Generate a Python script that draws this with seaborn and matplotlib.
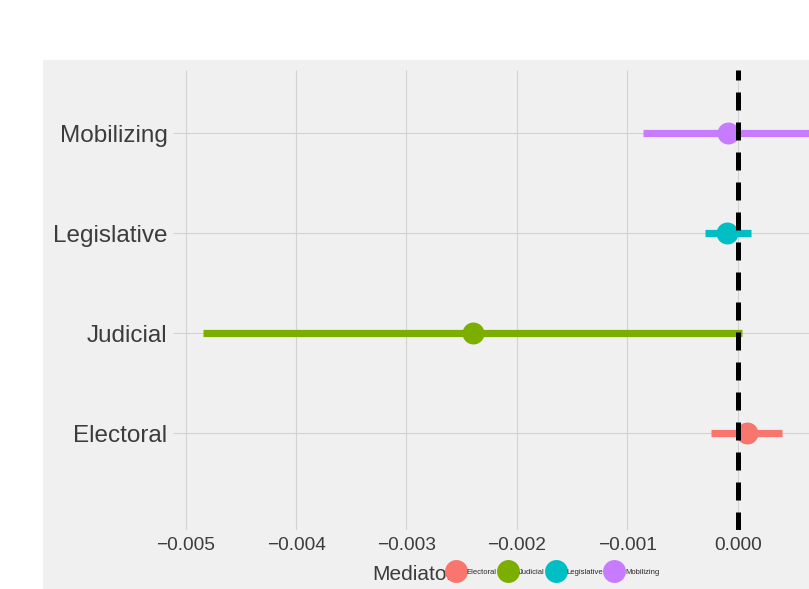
import matplotlib
matplotlib.use("Agg")
import matplotlib.pyplot as plt
from matplotlib import font_manager
from matplotlib.lines import Line2D
from matplotlib.patches import Rectangle
import seaborn as sns
import pandas as pd

# Mediation effects: point estimate with lower / upper interval bounds
mediators = ["Electoral", "Judicial", "Legislative", "Mobilizing"]
estimates = [0.00008, -0.0024, -0.0001, -0.00009]
lower = [-0.00024, -0.00484, -0.00030, -0.00086]
upper = [0.00040, 0.00004, 0.00012, 0.00072]
x_ticks = [-0.005, -0.004, -0.003, -0.002, -0.001, 0.000]
x_tick_labels = ["\u22120.005", "\u22120.004", "\u22120.003", "\u22120.002", "\u22120.001", "0.000"]
legend_title = "Mediator"

palette = {"Electoral": "#F8766D", "Judicial": "#7CAE00",
           "Legislative": "#00BFC4", "Mobilizing": "#C77CFF"}
bg = "#F0F0F0"
text_col = "#3C3C3C"
grid_col = "#D2D2D2"

sns.set_style("white", {"axes.facecolor": bg})
installed = {f.name for f in font_manager.fontManager.ttflist}
family = "Liberation Sans"
for cand in ["Liberation Sans Narrow", "DejaVu Sans Condensed", "Liberation Sans"]:
    if cand in installed:
        family = cand
        break
plt.rcParams["font.family"] = [family, "DejaVu Sans"]
plt.rcParams["lines.solid_capstyle"] = "butt"

# long table: each mediator contributes its lower bound, estimate and upper bound;
# median gives the estimate and the full percentile interval gives the bounds
rows = []
for m, lo, est, hi in zip(mediators, lower, estimates, upper):
    for v in (lo, est, hi):
        rows.append({"mediator": m, "effect": v})
df = pd.DataFrame(rows)

W, H = 809, 589
fig = plt.figure(figsize=(W / 100, H / 100), dpi=100, facecolor="white")
fig.patches.append(Rectangle((43 / W, 0), 1 - 43 / W, (H - 60) / H,
                             transform=fig.transFigure, facecolor=bg,
                             edgecolor="none", zorder=-5))

ax_left, ax_right, ax_top, ax_bottom = 173, 809, 70, 530
ax = fig.add_axes([ax_left / W, (H - ax_bottom) / H,
                   (ax_right - ax_left) / W, (ax_bottom - ax_top) / H])
ax.set_zorder(1)
ax.set_facecolor(bg)

order = ["Mobilizing", "Legislative", "Judicial", "Electoral"]
sns.pointplot(data=df, x="effect", y="mediator", hue="mediator",
              order=order, hue_order=mediators, palette=palette,
              estimator="median", errorbar=("pi", 100),
              markers="o", linestyles="none", markersize=15.8,
              markeredgewidth=0, err_kws={"linewidth": 5.2},
              dodge=False, legend=False, ax=ax)

ax.axvline(0, color="black", lw=3.6, dashes=(3.6, 2.4), zorder=10)

# pixel-calibrated data limits
px_per_unit = 110.4 / 0.001
zero_px = 737.7
ax.set_xlim((ax_left - zero_px) / px_per_unit, (ax_right - zero_px) / px_per_unit)
ax.set_ylim(3.97, -0.63)

ax.set_xticks(x_ticks)
ax.set_xticklabels(x_tick_labels)
ax.grid(True, color=grid_col, linewidth=0.8)
ax.set_axisbelow(True)
for s in ax.spines.values():
    s.set_visible(False)
ax.tick_params(axis="both", length=0, colors=text_col)
ax.tick_params(axis="x", labelsize=13.8, pad=5)
ax.tick_params(axis="y", labelsize=17.5, pad=4)
ax.set_xlabel("")
ax.set_ylabel("")

# bottom legend: title followed by colour keys
fig.text(372 / W, (H - 575) / H, legend_title, fontsize=15, color=text_col,
         ha="left", va="center", zorder=3)
handles = [Line2D([], [], linestyle="none", marker="o", markersize=16.5,
                  markeredgewidth=0, color=palette[m]) for m in mediators]
fig.legend(handles, mediators, loc="center left",
           bbox_to_anchor=(448 / W, (H - 572) / H), ncol=4, frameon=False,
           fontsize=5.5, handlelength=2.0, handletextpad=0.4,
           columnspacing=0.5, borderpad=0, borderaxespad=0)

fig.savefig("out.png", dpi=100, facecolor="white")
